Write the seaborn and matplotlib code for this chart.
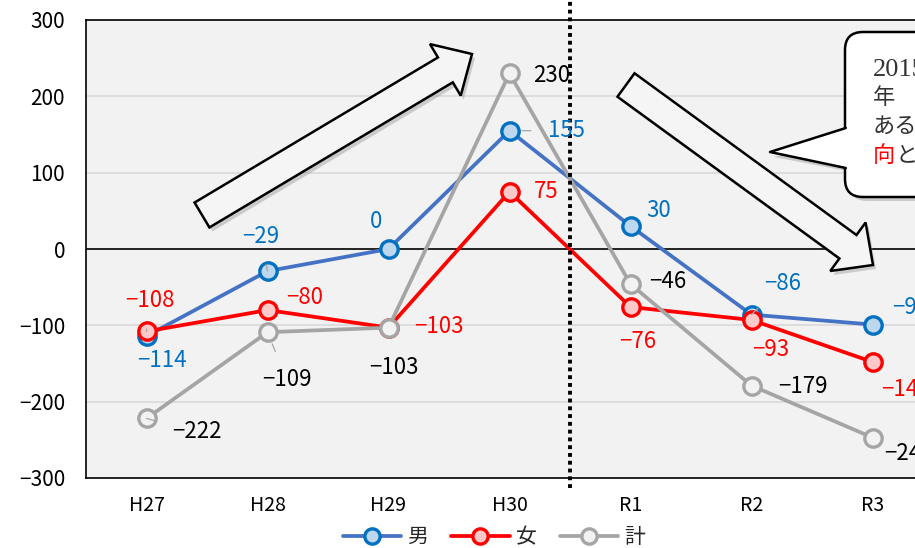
import numpy as np
import pandas as pd
import matplotlib
matplotlib.use("Agg")
import matplotlib.pyplot as plt
import matplotlib.transforms as mtransforms
from matplotlib.patches import FancyArrow, FancyBboxPatch, Polygon
from matplotlib.lines import Line2D
import seaborn as sns

# ---- data ----
years = ["H27", "H28", "H29", "H30", "R1", "R2", "R3"]
male = [-114, -29, 0, 155, 30, -86, -99]
female = [-108, -80, -103, 75, -76, -93, -148]
total = [-222, -109, -103, 230, -46, -179, -247]
series_names = ["男", "女", "計"]
y_ticks = [-300, -200, -100, 0, 100, 200, 300]

sns.set_theme(style="white")
plt.rcParams["font.family"] = ["Noto Sans CJK JP", "DejaVu Sans"]
plt.rcParams["axes.unicode_minus"] = True

W, H = 915, 548
fig = plt.figure(figsize=(W / 100, H / 100), dpi=100)
ax = fig.add_axes([86 / W, (H - 478) / H, 847 / W, 458 / H])
ax.set_facecolor("#f2f2f2")

# pixel coordinates (origin at top-left) for decorative shapes
px = mtransforms.Affine2D().scale(1 / W, -1 / H).translate(0, 1) + fig.transFigure

df = pd.DataFrame({
    "x": np.tile(np.arange(len(years)), 3),
    "value": male + female + total,
    "series": np.repeat(series_names, len(years)),
})

styles = {
    "男": dict(line="#4472c4", edge="#0070c0", face="#bdd7ee", label="#0070c0"),
    "女": dict(line="#ff0000", edge="#ff0000", face="#ffc9c9", label="#ff0000"),
    "計": dict(line="#a5a5a5", edge="#a5a5a5", face="#f2f2f2", label="#000000"),
}

for name in series_names:
    st = styles[name]
    sub = df[df["series"] == name]
    sns.lineplot(data=sub, x="x", y="value", ax=ax, color=st["line"], lw=2.7,
                 marker="o", markersize=12.5, markeredgewidth=2.4,
                 markeredgecolor=st["edge"], markerfacecolor=st["face"],
                 legend=False, zorder=3)

# label offsets in pixels (dx, dy) and whether a leader line is drawn
offsets = {
    "男": [(15, -24, False), (-7, 35, True), (-12, 27, False), (57, 0, True),
           (28, 16, False), (31, 31, True), (38, 17, False)],
    "女": [(3, 31, True), (37, 13, False), (50, 1, False), (37, 0, False),
           (7, -34, False), (19, -30, False), (33, -28, False)],
    "計": [(50, -13, True), (19, -47, True), (5, -40, False), (42, -2, False),
           (37, 3, False), (51, -1, False), (36, -16, False)],
}
values = {"男": male, "女": female, "計": total}

for name in series_names:
    st = styles[name]
    for i, v in enumerate(values[name]):
        dx, dy, leader = offsets[name][i]
        txt = f"{v}".replace("-", "\u2212")
        arrowprops = None
        if leader:
            arrowprops = dict(arrowstyle="-", color="#a6a6a6", lw=0.9,
                              shrinkA=10, shrinkB=9)
        ax.annotate(txt, (i, v), xytext=(dx, dy), textcoords="offset pixels",
                    ha="center", va="center", fontsize=16, color=st["label"],
                    arrowprops=arrowprops, zorder=5, annotation_clip=False)

# axes styling
ax.set_xlim(-0.5, 6.5)
ax.set_ylim(-300, 300)
ax.set_xticks(range(len(years)))
ax.set_xticklabels(years)
ax.set_yticks(y_ticks)
ax.set_yticklabels([f"{t}".replace("-", "\u2212") for t in y_ticks])
ax.tick_params(axis="both", length=0, colors="#000000")
ax.tick_params(axis="y", pad=15, labelsize=15)
ax.tick_params(axis="x", pad=12, labelsize=14)
ax.set_xlabel("")
ax.set_ylabel("")
for t in y_ticks:
    if t not in (0, -300, 300):
        ax.axhline(t, color="#d9d9d9", lw=1.2, zorder=1)
ax.axhline(0, color="#000000", lw=1.2, zorder=2)
for s in ["left", "bottom", "top"]:
    ax.spines[s].set_color("#000000")
    ax.spines[s].set_linewidth(1.2)
ax.spines["right"].set_visible(False)

# boundary between the two eras
ax.axvline(3.5, ymin=-0.022, ymax=1.05, color="#000000", lw=2.8,
           linestyle=(0, (1, 1)), clip_on=False, zorder=4)

# large trend arrows
def block_arrow(tail, tip):
    x0, y0 = tail
    dx, dy = tip[0] - x0, tip[1] - y0
    kw = dict(width=29, head_width=60, head_length=31, length_includes_head=True,
              transform=px)
    sh = FancyArrow(x0 + 3, y0 + 4, dx, dy, facecolor="#9a9a9a", edgecolor="none",
                    alpha=0.45, zorder=6, **kw)
    ar = FancyArrow(x0, y0, dx, dy, facecolor="#f5f5f5", edgecolor="#000000",
                    lw=1.8, zorder=7, **kw)
    fig.add_artist(sh)
    fig.add_artist(ar)

block_arrow((202, 215), (472, 54))
block_arrow((626, 85), (873, 265))

# callout box
box_sh = FancyBboxPatch((849, 36), 140, 165, boxstyle="round,pad=0,rounding_size=18",
                        facecolor="#9a9a9a", edgecolor="none", alpha=0.45,
                        transform=px, zorder=8)
tail_sh = Polygon([(852, 133), (774, 157), (852, 172)], closed=True,
                  facecolor="#9a9a9a", edgecolor="none", alpha=0.45,
                  transform=px, zorder=8)
box = FancyBboxPatch((845, 32), 140, 165, boxstyle="round,pad=0,rounding_size=18",
                     facecolor="#ffffff", edgecolor="#000000", lw=1.8,
                     transform=px, zorder=9)
tail_fill = Polygon([(848, 128), (770, 152), (848, 168)], closed=True,
                    facecolor="#ffffff", edgecolor="none", transform=px, zorder=10)
tail_edge = Line2D([845.8, 770, 845.8], [128, 152, 168], color="#000000", lw=1.8,
                   transform=px, zorder=11)
for p in (box_sh, tail_sh, box, tail_fill):
    fig.add_artist(p)
fig.add_artist(tail_edge)

callout_font = ["Liberation Serif", "Noto Sans CJK JP"]
callout_lines = [("2015", "#333333", 873, 70, 19), ("年", "#333333", 873, 99, 16),
                 ("ある", "#333333", 873, 128, 16), ("向", "#ff0000", 873, 157, 16),
                 ("と", "#333333", 895, 157, 16)]
for s, c, xx, yy, fs in callout_lines:
    fig.text(xx / W, 1 - yy / H, s, fontsize=fs, family=callout_font,
             color=c, va="center", ha="left", zorder=12)

# legend
handles = [Line2D([0], [0], color=styles[n]["line"], lw=2.7, marker="o",
                  markersize=11, markeredgewidth=2.4,
                  markeredgecolor=styles[n]["edge"],
                  markerfacecolor=styles[n]["face"]) for n in series_names]
fig.legend(handles, series_names, loc="center", bbox_to_anchor=(494 / W, 1 - 537 / H),
           ncol=3, frameon=False, fontsize=15, handlelength=2.8,
           handletextpad=0.3, columnspacing=1.1)

fig.savefig("out.png", dpi=100)
